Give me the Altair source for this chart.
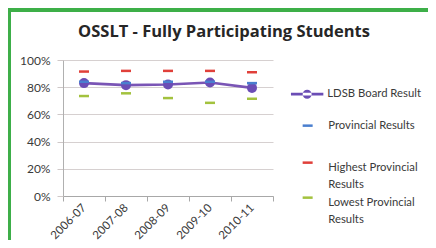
import altair as alt
import pandas as pd

years = ["2006-07", "2007-08", "2008-09", "2009-10", "2010-11"]
ldsb = [83.0, 81.5, 82.0, 83.5, 79.5]
provincial = [84.0, 83.0, 84.0, 84.0, 83.0]
highest = [91.5, 92.0, 92.0, 92.0, 91.0]
lowest = [73.5, 75.5, 72.0, 68.5, 71.5]

series_names = ["LDSB Board Result", "Provincial Results",
                "Highest Provincial Results", "Lowest Provincial Results"]
series_values = [ldsb, provincial, highest, lowest]
series_colors = ["#6B4DB5", "#4A7FCF", "#E0403A", "#A3C23E"]
line_color = "#7A55B5"
y_ticks = [0, 0.2, 0.4, 0.6, 0.8, 1.0]

rows = []
for name, vals in zip(series_names, series_values):
    for yr, v in zip(years, vals):
        rows.append({"year": yr, "series": name, "value": v / 100})
df = pd.DataFrame(rows)

FONT = "Lato"
DASH = "M-1,-0.25H1V0.25H-1Z"
DASH_UP = "M-1,-1.25H1V-0.75H-1Z"
LINE_CIRCLE = "M-3.6,-0.3H3.6V0.3H-3.6Z M-1,0A1,1 0 1,0 1,0A1,1 0 1,0 -1,0Z"

x_enc = alt.X("year:N", sort=years, title=None,
              scale=alt.Scale(type="band", paddingInner=0, paddingOuter=0),
              axis=alt.Axis(labelAngle=-45, labelAlign="right", labelBaseline="middle",
                            labelPadding=5, tickBand="extent", tickSize=5,
                            tickColor="#A8A8A8", domainColor="#A8A8A8",
                            labelFont=FONT, labelFontSize=11.5, labelColor="#3A3A3A",
                            grid=False))
y_enc = alt.Y("value:Q", title=None,
              scale=alt.Scale(domain=[0, 1], nice=False, zero=True),
              axis=alt.Axis(values=y_ticks, format=".0%", tickSize=6,
                            tickColor="#CFC8C8", gridColor="#D6D0D0",
                            domainColor="#B0B0B0", labelPadding=7,
                            labelFont=FONT, labelFontSize=12, labelColor="#3A3A3A"))


def legend(x, y, symbol, size, label_offset, label_expr=None):
    kw = dict(orient="none", legendX=x, legendY=y, title=None, symbolType=symbol,
              symbolSize=size, symbolOpacity=1, symbolStrokeWidth=0,
              labelOffset=label_offset, labelFont=FONT, labelFontSize=11.3,
              labelColor="#3A3A3A", labelLimit=200, padding=0)
    if label_expr:
        kw["labelExpr"] = label_expr
    return alt.Legend(**kw)


base = alt.Chart(df)

ldsb_line = base.transform_filter(alt.datum.series == series_names[0]).mark_line(
    strokeWidth=2.6, color=line_color).encode(x=x_enc, y=y_enc)

ldsb_pts = base.transform_filter(alt.datum.series == series_names[0]).mark_point(
    filled=True, shape="circle", size=100, opacity=1).encode(
    x=x_enc, y=y_enc,
    color=alt.Color("series:N", scale=alt.Scale(domain=[series_names[0]], range=[series_colors[0]]),
                    legend=legend(238.5, 28.5, LINE_CIRCLE, 81, 14.5)))

dash_layers = []
legend_specs = [
    (239, 60, DASH, None),
    (239, 102, DASH_UP, "['Highest Provincial', 'Results']"),
    (239, 137, DASH_UP, "['Lowest Provincial', 'Results']"),
]
for i, (lx, ly, sym, expr) in enumerate(legend_specs, start=1):
    dash_layers.append(
        base.transform_filter(alt.datum.series == series_names[i]).mark_point(
            filled=True, shape=DASH, size=100, opacity=1).encode(
            x=x_enc, y=y_enc,
            color=alt.Color("series:N",
                            scale=alt.Scale(domain=[series_names[i]], range=[series_colors[i]]),
                            legend=legend(lx, ly, sym, 100, 15, expr))))

border_left = alt.Chart(df).mark_rule(color="#3FAE49", strokeWidth=2.5).encode(
    x=alt.value(-54), y=alt.value(-52), y2=alt.value(188))
border_top = alt.Chart(df).mark_rule(color="#3FAE49", strokeWidth=2.5).encode(
    x=alt.value(-55), x2=alt.value(365), y=alt.value(-50))

chart = alt.layer(border_left, border_top, ldsb_line, ldsb_pts, *dash_layers).resolve_scale(
    color="independent"
).properties(
    width=210, height=136,
    padding={"left": 55, "top": 52, "right": 155, "bottom": 44},
    autosize=alt.AutoSizeParams(type="none"),
    background="white",
    title=alt.Title("OSSLT - Fully Participating Students", font="Open Sans", fontSize=16.5,
                    fontWeight="bold", color="#262626", anchor="middle", frame="group",
                    dx=56, baseline="bottom", offset=0, dy=50),
).configure(style={"guide-label": {"lineHeight": 17}}).configure_view(stroke=None)

chart.save("out.html", embed_options={"renderer": "svg", "actions": False})
